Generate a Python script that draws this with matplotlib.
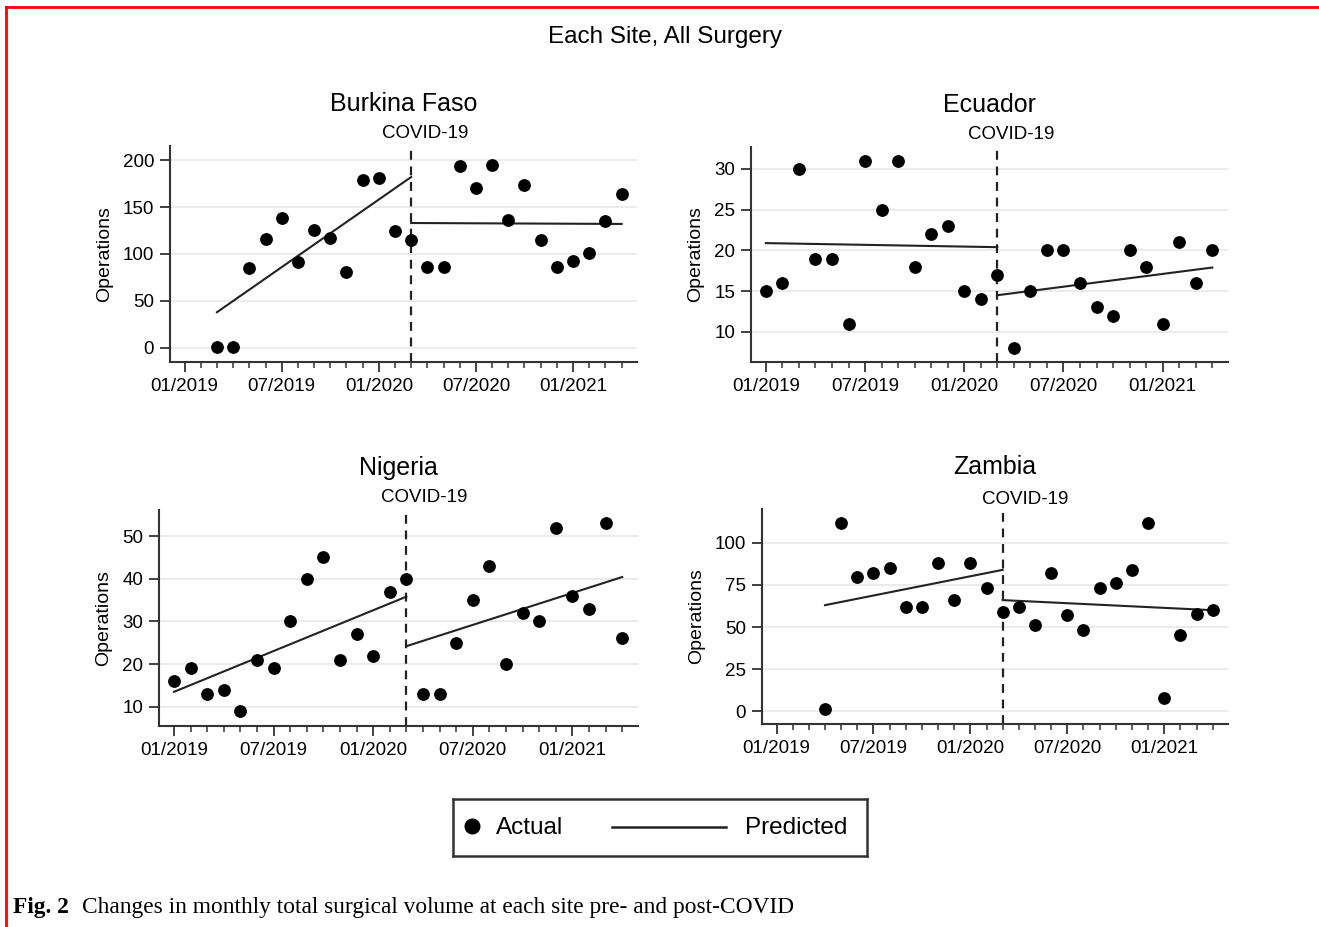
import matplotlib.pyplot as plt
from matplotlib.lines import Line2D
import numpy as np

plt.rcParams['font.family'] = ['Liberation Sans', 'DejaVu Sans']

# months counted from 01/2019 (0) to 04/2021 (27); COVID starts 03/2020
month_labels = ['01/2019', '07/2019', '01/2020', '07/2020', '01/2021']
label_months = [0, 6, 12, 18, 24]
covid_month = 14
last_month = 27

sites = ['Burkina Faso', 'Ecuador', 'Nigeria', 'Zambia']

burkina_start = 2
burkina = [1, 1, 85, 116, 138, 92, 126, 117, 81, 179, 181, 125, 115,
           86, 86, 194, 170, 195, 136, 173, 115, 86, 93, 101, 135, 164]

ecuador_start = 0
ecuador = [15, 16, 30, 19, 19, 11, 31, 25, 31, 18, 22, 23, 15, 14, 17,
           8, 15, 20, 20, 16, 13, 12, 20, 18, 11, 21, 16, 20]

nigeria_start = 0
nigeria = [16, 19, 13, 14, 9, 21, 19, 30, 40, 45, 21, 27, 22, 37, 40,
           13, 13, 25, 35, 43, 20, 32, 30, 52, 36, 33, 53, 26]

zambia_start = 3
zambia = [1, 112, 80, 82, 85, 62, 62, 88, 66, 88, 73, 59,
          62, 51, 82, 57, 48, 73, 76, 84, 112, 8, 45, 58, 60]

# predicted segments: value at start and at end of each period
burkina_pre = [38, 182]
burkina_post = [133, 132]
ecuador_pre = [20.9, 20.4]
ecuador_post = [14.5, 17.9]
nigeria_pre = [13.5, 35.8]
nigeria_post = [24.2, 40.4]
zambia_pre = [63, 84]
zambia_post = [66, 60]

yticks = {
    'Burkina Faso': [0, 50, 100, 150, 200],
    'Ecuador': [10, 15, 20, 25, 30],
    'Nigeria': [10, 20, 30, 40, 50],
    'Zambia': [0, 25, 50, 75, 100],
}
ylims = {
    'Burkina Faso': (-15, 215),
    'Ecuador': (6.3, 32.7),
    'Nigeria': (5.5, 56.1),
    'Zambia': (-7.7, 120.2),
}

data = {
    'Burkina Faso': (burkina_start, burkina, burkina_pre, burkina_post),
    'Ecuador': (ecuador_start, ecuador, ecuador_pre, ecuador_post),
    'Nigeria': (nigeria_start, nigeria, nigeria_pre, nigeria_post),
    'Zambia': (zambia_start, zambia, zambia_pre, zambia_post),
}

W, H = 1319, 927
# axes boxes in pixels: left, right, top, bottom
boxes = {
    'Burkina Faso': (170, 637, 146, 362),
    'Ecuador': (751, 1228, 147, 362),
    'Nigeria': (159, 638, 510, 726),
    'Zambia': (762, 1228, 509, 724),
}
# the COVID-19 label sits a bit right of the dashed line (points)
covid_shift = {'Burkina Faso': 10, 'Ecuador': 10, 'Nigeria': 13, 'Zambia': 16}
covid_lift = {'Burkina Faso': 3, 'Ecuador': 3, 'Nigeria': 3, 'Zambia': 0.5}

dark = '#222222'
fig = plt.figure(figsize=(W / 100, H / 100), dpi=100)

for site in sites:
    x0, x1, yt, yb = boxes[site]
    ax = fig.add_axes([x0 / W, 1 - yb / H, (x1 - x0) / W, (yb - yt) / H])
    start, vals, pre, post = data[site]
    months = np.arange(start, start + len(vals))

    ax.axvline(covid_month, color=dark, lw=1.6, ls=(0, (4, 3)), zorder=2)
    ax.plot([start, covid_month], pre, color=dark, lw=1.5, zorder=3)
    ax.plot([covid_month, last_month], post, color=dark, lw=1.5, zorder=3)
    ax.scatter(months, vals, s=85, color='black', zorder=4, linewidths=0)

    ax.set_xlim(-0.9, 27.95)
    ax.set_ylim(*ylims[site])
    ax.set_yticks(yticks[site])
    ax.set_xticks(label_months)
    ax.set_xticklabels(month_labels)
    ax.set_xticks(np.arange(0, last_month + 1), minor=True)
    ax.grid(axis='y', color='#e9e9e9', lw=1.3)
    ax.set_axisbelow(True)

    for side in ['top', 'right']:
        ax.spines[side].set_visible(False)
    for side in ['left', 'bottom']:
        ax.spines[side].set_color('#333333')
        ax.spines[side].set_linewidth(1.5)
    ax.tick_params(axis='both', which='major', labelsize=13.5, color='#333333',
                   width=1.3, length=7, pad=4.5)
    ax.tick_params(axis='x', which='minor', color='#333333', width=1.1, length=4)
    ax.tick_params(axis='y', which='minor', left=False)

    ax.set_ylabel('Operations', fontsize=14, labelpad=7)
    ax.set_title(site, fontsize=18, pad=25)
    ax.annotate('COVID-19', xy=(covid_month, 1), xycoords=('data', 'axes fraction'),
                xytext=(covid_shift[site], covid_lift[site]), textcoords='offset points',
                ha='center', va='bottom', fontsize=13.5)

fig.text(665 / W, 1 - 37 / H, 'Each Site, All Surgery', ha='center', va='center',
         fontsize=17.5)

# legend box drawn in its own axes
lx0, lx1, lt, lb = 453, 867, 799, 856
lax = fig.add_axes([lx0 / W, 1 - lb / H, (lx1 - lx0) / W, (lb - lt) / H])
lax.set_xlim(0, lx1 - lx0)
lax.set_ylim(0, lb - lt)
lax.set_xticks([])
lax.set_yticks([])
for sp in lax.spines.values():
    sp.set_color('#333333')
    sp.set_linewidth(1.8)
mid = (lb - lt) / 2
lax.plot([19], [mid + 2], 'o', color='black', ms=10.5)
lax.text(43, mid, 'Actual', fontsize=17.5, va='center', ha='left')
lax.plot([159, 273], [mid + 1, mid + 1], color=dark, lw=1.8)
lax.text(292, mid, 'Predicted', fontsize=17.5, va='center', ha='left')

# caption
fig.text(13 / W, 1 - 908 / H, 'Fig. 2', fontsize=16.8, fontweight='bold',
         family='Liberation Serif', va='center', ha='left')
fig.text(82 / W, 1 - 908 / H,
         'Changes in monthly total surgical volume at each site pre- and post-COVID',
         fontsize=16.8, family='Liberation Serif', va='center', ha='left')

# red frame on top and left edge
fig.add_artist(Line2D([6 / W, 1], [1 - 7 / H, 1 - 7 / H], color='red', lw=2,
                      transform=fig.transFigure))
fig.add_artist(Line2D([6 / W, 6 / W], [0, 1 - 7 / H], color='red', lw=2,
                      transform=fig.transFigure))

fig.savefig('out.png', dpi=100)
